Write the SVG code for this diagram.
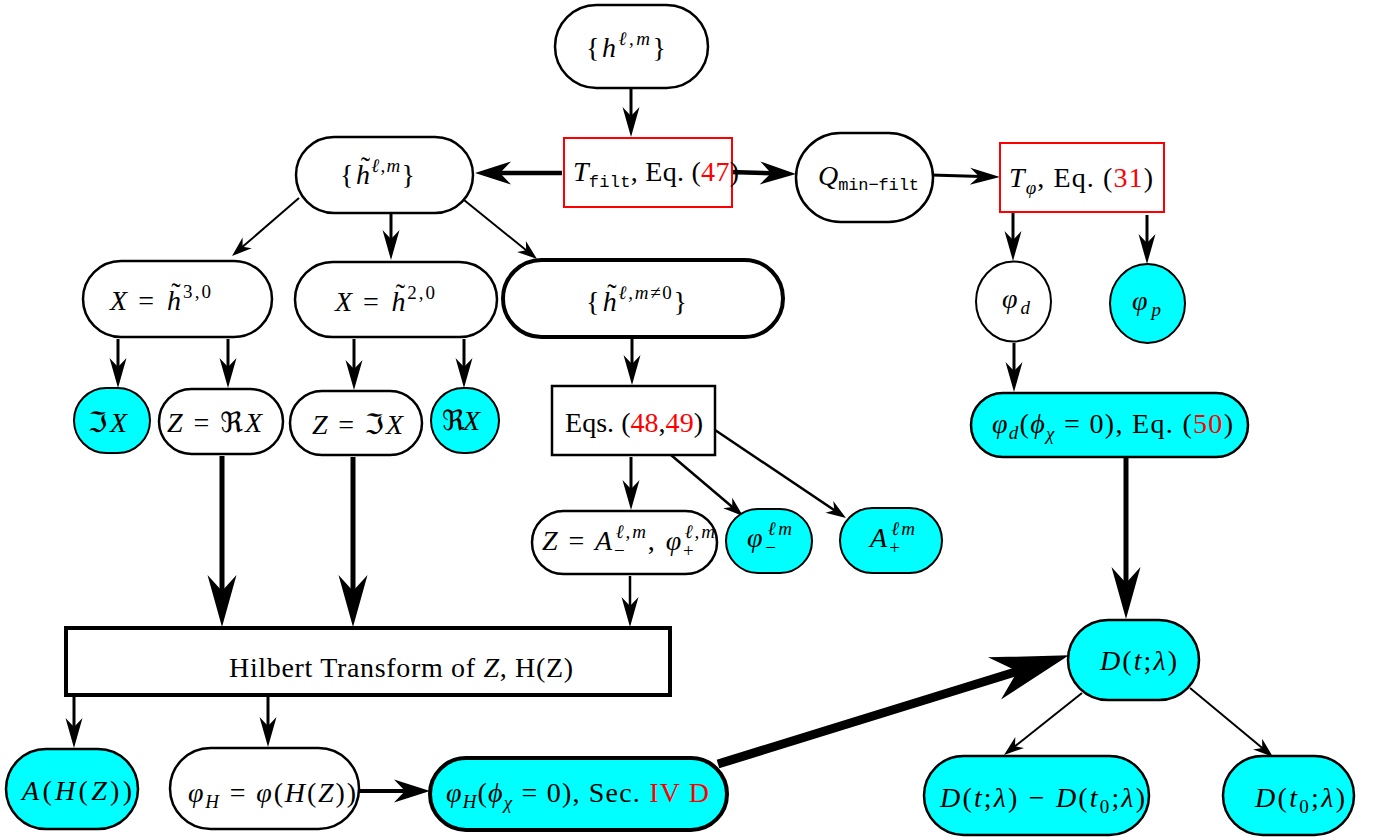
<svg xmlns="http://www.w3.org/2000/svg" width="1387" height="840" viewBox="0 0 1387 840">
<style>
.n{fill:#fff;stroke:#000;stroke-width:2.5}
.c{fill:#00ffff}
.rb{fill:#fff;stroke:#ff0000;stroke-width:2}
.tk{stroke-width:4}
.tn{stroke-width:2}
text{font-family:"Liberation Serif","DejaVu Serif","DejaVu Sans",serif;font-size:28px;fill:#000}
.i{font-style:italic}
.s{font-size:19px}
.tt{font-family:"Liberation Mono",monospace;font-size:17px}
.red{fill:#ff0000}
.e line{stroke:#000;fill:none}
</style>
<defs>
<marker id="ms" markerUnits="userSpaceOnUse" markerWidth="20" markerHeight="14" refX="8" refY="7" orient="auto" overflow="visible"><path d="M20,7 L0,0 L6,7 L0,14 Z"/></marker>
<marker id="mm" markerUnits="userSpaceOnUse" markerWidth="30" markerHeight="17" refX="11" refY="8.5" orient="auto" overflow="visible"><path d="M30,8.5 L0,0 L9,8.5 L0,17 Z"/></marker>
<marker id="mt" markerUnits="userSpaceOnUse" markerWidth="36" markerHeight="23" refX="13" refY="11.5" orient="auto" overflow="visible"><path d="M36,11.5 L0,0 L11,11.5 L0,23 Z"/></marker>
<marker id="ml" markerUnits="userSpaceOnUse" markerWidth="52" markerHeight="29" refX="18" refY="14.5" orient="auto" overflow="visible"><path d="M52,14.5 L0,0 L16,14.5 L0,29 Z"/></marker>
<marker id="mh" markerUnits="userSpaceOnUse" markerWidth="78" markerHeight="44" refX="27" refY="22" orient="auto" overflow="visible"><path d="M78,22 L0,0 L24,22 L0,44 Z"/></marker>
</defs>
<rect width="1387" height="840" fill="#fff"/>

<g id="edges" class="e">
<line x1="631" y1="88" x2="631" y2="118" stroke-width="3" marker-end="url(#mm)"/>
<line x1="562" y1="173" x2="498" y2="173" stroke-width="4.5" marker-end="url(#mt)"/>
<line x1="729" y1="172" x2="773" y2="173.3" stroke-width="4.5" marker-end="url(#mt)"/>
<line x1="931" y1="175" x2="981" y2="176.5" stroke-width="3" marker-end="url(#mm)"/>
<line x1="299" y1="198" x2="241.1" y2="248.1" stroke-width="2" marker-end="url(#ms)"/>
<line x1="391" y1="214" x2="391" y2="241" stroke-width="3" marker-end="url(#mm)"/>
<line x1="464" y1="200" x2="527.7" y2="251.5" stroke-width="2" marker-end="url(#ms)"/>
<line x1="118" y1="339" x2="118" y2="369" stroke-width="3" marker-end="url(#mm)"/>
<line x1="228" y1="339" x2="228" y2="369" stroke-width="3" marker-end="url(#mm)"/>
<line x1="354" y1="339" x2="354" y2="371" stroke-width="3" marker-end="url(#mm)"/>
<line x1="464" y1="339" x2="464" y2="369" stroke-width="3" marker-end="url(#mm)"/>
<line x1="632" y1="337" x2="632" y2="366" stroke-width="3" marker-end="url(#mm)"/>
<line x1="1013" y1="212" x2="1013" y2="242" stroke-width="3" marker-end="url(#mm)"/>
<line x1="1147" y1="215" x2="1147" y2="245" stroke-width="3" marker-end="url(#mm)"/>
<line x1="1014" y1="343" x2="1014" y2="373" stroke-width="3" marker-end="url(#mm)"/>
<line x1="631" y1="457" x2="631" y2="491" stroke-width="3" marker-end="url(#mm)"/>
<line x1="671" y1="455" x2="733.8" y2="508.2" stroke-width="2.5" marker-end="url(#ms)"/>
<line x1="715" y1="430" x2="836" y2="511.3" stroke-width="2.5" marker-end="url(#ms)"/>
<line x1="222" y1="456" x2="222" y2="593" stroke-width="5" marker-end="url(#ml)"/>
<line x1="353" y1="457" x2="353" y2="593" stroke-width="5" marker-end="url(#ml)"/>
<line x1="630" y1="576" x2="630" y2="608" stroke-width="2.5" marker-end="url(#mm)"/>
<line x1="1126" y1="458" x2="1126" y2="585" stroke-width="5" marker-end="url(#ml)"/>
<line x1="74" y1="697" x2="74" y2="729" stroke-width="3" marker-end="url(#mm)"/>
<line x1="268" y1="697" x2="268" y2="728" stroke-width="3" marker-end="url(#mm)"/>
<line x1="359" y1="791" x2="407" y2="791" stroke-width="4" marker-end="url(#mt)"/>
<line x1="718" y1="764" x2="1020.3" y2="670.4" stroke-width="9" marker-end="url(#mh)"/>
<line x1="1082" y1="693" x2="1013.4" y2="747.5" stroke-width="2" marker-end="url(#ms)"/>
<line x1="1190" y1="688" x2="1263.8" y2="749.3" stroke-width="2" marker-end="url(#ms)"/>
</g>

<g id="n-h">
<rect class="n" x="555" y="5" width="153" height="83" rx="41.5" stroke-width="3"/>
<text x="586" y="57" textLength="80">{<tspan class="i">h</tspan><tspan class="s i" dy="-12">ℓ,m</tspan><tspan dy="12">}</tspan></text>
</g>
<g id="n-tfilt">
<rect class="rb" x="564" y="138" width="168" height="69"/>
<text x="573" y="181" textLength="166"><tspan class="i">T</tspan><tspan class="tt" dy="6">filt</tspan><tspan dy="-6">, Eq. (</tspan><tspan class="red">47</tspan>)</text>
</g>
<g id="n-htilde">
<rect class="n" x="296" y="137" width="177" height="76" rx="38" stroke-width="3"/>
<text x="340" y="184" textLength="75">{<tspan dx="6" dy="-8">˜</tspan><tspan class="i" dx="-15.5" dy="8">h</tspan><tspan class="s i" dy="-12">ℓ,m</tspan><tspan dy="12">}</tspan></text>
</g>
<g id="n-q">
<rect class="n" x="796" y="133" width="137" height="89" rx="44.5" stroke-width="3"/>
<text x="818" y="185" textLength="101"><tspan class="i">Q</tspan><tspan class="tt" dy="5">min−filt</tspan></text>
</g>
<g id="n-tphi">
<rect class="rb" x="1000" y="143" width="164" height="69" stroke-width="2.5"/>
<text x="1009" y="187" textLength="144"><tspan class="i">T</tspan><tspan class="s i" dy="7">φ</tspan><tspan dy="-7">, Eq. (</tspan><tspan class="red">31</tspan>)</text>
</g>
<g id="n-x3">
<rect class="n" x="83" y="261" width="189" height="76" rx="38" stroke-width="3"/>
<text x="110" y="310" textLength="101"><tspan class="i">X</tspan> = <tspan dx="6" dy="-8">˜</tspan><tspan class="i" dx="-15.5" dy="8">h</tspan><tspan class="s" dy="-12">3,0</tspan></text>
</g>
<g id="n-x2">
<rect class="n" x="295" y="262" width="202" height="75" rx="37.5" stroke-width="3"/>
<text x="335" y="311" textLength="100"><tspan class="i">X</tspan> = <tspan dx="6" dy="-8">˜</tspan><tspan class="i" dx="-15.5" dy="8">h</tspan><tspan class="s" dy="-12">2,0</tspan></text>
</g>
<g id="n-hne0">
<rect class="n tk" x="503" y="260" width="280" height="77" rx="38.5"/>
<text x="586" y="311" textLength="101">{<tspan dx="6" dy="-8">˜</tspan><tspan class="i" dx="-15.5" dy="8">h</tspan><tspan class="s i" dy="-12">ℓ,m</tspan><tspan class="s">≠0</tspan><tspan dy="12">}</tspan></text>
</g>
<g id="n-phid">
<ellipse class="n tn" cx="1013.5" cy="301.5" rx="37.5" ry="40"/>
<text x="1002" y="308" textLength="28"><tspan class="i">φ</tspan><tspan class="s i" dy="6">d</tspan></text>
</g>
<g id="n-phip">
<ellipse class="n c tn" cx="1147.5" cy="303.5" rx="37.5" ry="39.5"/>
<text x="1132" y="310" textLength="29"><tspan class="i">φ</tspan><tspan class="s i" dy="6">p</tspan></text>
</g>
<g id="n-imx">
<rect class="n c tn" x="74" y="388" width="76" height="65" rx="32.5"/>
<text x="88" y="432" textLength="39">ℑ<tspan class="i">X</tspan></text>
</g>
<g id="n-zre">
<rect class="n" x="159" y="389" width="124" height="65" rx="32.5"/>
<text x="167" y="432" textLength="95"><tspan class="i">Z</tspan> = ℜ<tspan class="i">X</tspan></text>
</g>
<g id="n-zim">
<rect class="n" x="290" y="391" width="132" height="64" rx="32"/>
<text x="312" y="434" textLength="91"><tspan class="i">Z</tspan> = ℑ<tspan class="i">X</tspan></text>
</g>
<g id="n-rex">
<rect class="n c tn" x="431" y="388" width="68" height="65" rx="32.5"/>
<text x="442" y="430" textLength="38">ℜ<tspan class="i">X</tspan></text>
</g>
<g id="n-eqs">
<rect class="n" x="552" y="386" width="163" height="69"/>
<text x="565" y="432" textLength="138">Eqs. (<tspan class="red">48</tspan>,<tspan class="red">49</tspan>)</text>
</g>
<g id="n-phid0">
<rect class="n c" x="971" y="393" width="277" height="64" rx="32" stroke-width="3.5"/>
<text x="992" y="433" textLength="241"><tspan class="i">φ</tspan><tspan class="s i" dy="6">d</tspan><tspan dy="-6">(</tspan><tspan class="i">ϕ</tspan><tspan class="s i" dy="7">χ</tspan><tspan dy="-7"> = 0), Eq. (</tspan><tspan class="red">50</tspan>)</text>
</g>
<g id="n-za">
<rect class="n" x="532" y="511" width="185" height="63" rx="31.5" stroke-width="3"/>
<text x="542" y="550" textLength="173"><tspan class="i">Z</tspan> = <tspan class="i">A</tspan><tspan class="s" dy="7">−</tspan><tspan class="s i" dx="-11" dy="-19">ℓ,m</tspan><tspan dy="12">, </tspan><tspan class="i">φ</tspan><tspan class="s" dy="7">+</tspan><tspan class="s i" dx="-11" dy="-19">ℓ,m</tspan></text>
</g>
<g id="n-phim">
<rect class="n c tn" x="726" y="509" width="86" height="64" rx="32"/>
<text x="747" y="547" textLength="45"><tspan class="i">φ</tspan><tspan class="s" dy="7">−</tspan><tspan class="s i" dx="-11" dy="-19">ℓm</tspan></text>
</g>
<g id="n-ap">
<rect class="n c tn" x="840" y="508" width="102" height="65" rx="32.5"/>
<text x="870" y="547" textLength="45"><tspan class="i">A</tspan><tspan class="s" dy="7">+</tspan><tspan class="s i" dx="-11" dy="-19">ℓm</tspan></text>
</g>
<g id="n-hilbert">
<rect class="n tk" x="66" y="628" width="604" height="67"/>
<text x="229" y="677" textLength="344">Hilbert Transform of <tspan class="i">Z</tspan>, H(Z)</text>
</g>
<g id="n-D">
<rect class="n c" x="1068" y="620" width="131" height="80" rx="40"/>
<text x="1100" y="670" textLength="77"><tspan class="i">D</tspan>(<tspan class="i">t</tspan>;<tspan class="i">λ</tspan>)</text>
</g>
<g id="n-ahz">
<rect class="n c" x="6" y="749" width="132" height="80" rx="40"/>
<text x="22" y="800" textLength="110"><tspan class="i">A</tspan>(<tspan class="i">H</tspan>(<tspan class="i">Z</tspan>))</text>
</g>
<g id="n-phih">
<rect class="n" x="170" y="748" width="189" height="81" rx="40.5" stroke-width="3"/>
<text x="188" y="802" textLength="168"><tspan class="i">φ</tspan><tspan class="s i" dy="6">H</tspan><tspan dy="-6"> = </tspan><tspan class="i">φ</tspan>(<tspan class="i">H</tspan>(<tspan class="i">Z</tspan>))</text>
</g>
<g id="n-phih0">
<rect class="n c tk" x="430" y="758" width="297" height="72" rx="36"/>
<text x="446" y="802" textLength="263"><tspan class="i">φ</tspan><tspan class="s i" dy="6">H</tspan><tspan dy="-6">(</tspan><tspan class="i">ϕ</tspan><tspan class="s i" dy="7">χ</tspan><tspan dy="-7"> = 0), Sec. </tspan><tspan class="red">IV D</tspan></text>
</g>
<g id="n-dd">
<rect class="n c" x="924" y="756" width="225" height="79" rx="39.5" stroke-width="3.5"/>
<text x="940" y="807" textLength="205"><tspan class="i">D</tspan>(<tspan class="i">t</tspan>;<tspan class="i">λ</tspan>) − <tspan class="i">D</tspan>(<tspan class="i">t</tspan><tspan class="s" dy="6">0</tspan><tspan dy="-6">;</tspan><tspan class="i">λ</tspan>)</text>
</g>
<g id="n-d0">
<rect class="n c" x="1223" y="756" width="131" height="79" rx="39.5"/>
<text x="1255" y="807" textLength="90"><tspan class="i">D</tspan>(<tspan class="i">t</tspan><tspan class="s" dy="6">0</tspan><tspan dy="-6">;</tspan><tspan class="i">λ</tspan>)</text>
</g>
</svg>
